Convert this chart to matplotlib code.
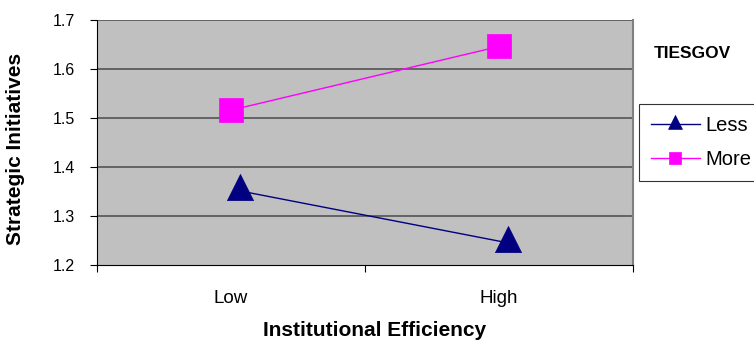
import matplotlib
matplotlib.use("Agg")
import matplotlib.pyplot as plt
from matplotlib.path import Path

categories = ["Low", "High"]
less_vals = [1.351, 1.245]
more_vals = [1.516, 1.646]
series_names = ["Less", "More"]
yticks = [1.2, 1.3, 1.4, 1.5, 1.6, 1.7]
legend_title = "TIESGOV"

plt.rcParams['font.family'] = ['Liberation Sans', 'DejaVu Sans']

# Excel-style triangle: data point sits below the middle of the triangle
tri = Path([(0, 1.3), (-1, -0.7), (1, -0.7), (0, 1.3)],
           [Path.MOVETO, Path.LINETO, Path.LINETO, Path.CLOSEPOLY])

fig = plt.figure(figsize=(7.54, 3.45), dpi=100)
ax = fig.add_axes([97/754, 1-265/345, (633-97)/754, (265-20)/345])
ax.set_facecolor("#C0C0C0")

pos = [0.5, 1.5]
shift = 0.035  # the "Less" series is drawn slightly right of the category centre
ax.plot([p + shift for p in pos], less_vals, color="#000080", lw=1.0, marker=tri,
        markersize=24.5, markeredgecolor="#000080", markeredgewidth=0.5,
        label=series_names[0], zorder=3)
ax.plot(pos, more_vals, color="#FF00FF", lw=1.0, marker="s", markersize=17.5,
        markeredgecolor="#FF00FF", markeredgewidth=0.5,
        label=series_names[1], zorder=3)

ax.set_xlim(0, 2)
ax.set_ylim(1.2, 1.7)
ax.set_yticks(yticks)
ax.set_yticklabels([f"{v:.1f}" for v in yticks], fontsize=11.5)
for v in yticks[1:]:
    ax.axhline(v, color="#4a4a4a", lw=1.1, zorder=1)

ax.set_xticks([0, 1, 2])
ax.set_xticklabels([])
ax.set_xticks(pos, minor=True)
ax.set_xticklabels(categories, minor=True, fontsize=13.5)
ax.tick_params(axis='x', which='minor', length=0, pad=18)
ax.tick_params(axis='x', which='major', length=5, direction='out', color='black')
ax.tick_params(axis='y', length=5, direction='out', color='black', pad=11)

ax.spines['top'].set_visible(False)
ax.spines['right'].set_color('#808080')
ax.spines['right'].set_linewidth(1.5)
ax.spines['left'].set_color('black')
ax.spines['bottom'].set_color('black')

ax.set_ylabel("Strategic Initiatives", fontsize=15, fontweight='bold')
ax.yaxis.set_label_coords((16-97)/536, (265-149)/245)
ax.yaxis.label.set_va('center')
ax.set_xlabel("Institutional Efficiency", fontsize=15, fontweight='bold')
ax.xaxis.set_label_coords((375-97)/536, (265-331)/245)
ax.xaxis.label.set_va('center')

fig.text(654/754, 1-53/345, legend_title, fontsize=12.5, fontweight='bold',
         va='center', ha='left')

leg = ax.legend(loc='upper left', bbox_to_anchor=(639/754, 1-104/345),
                bbox_transform=fig.transFigure, frameon=True, fancybox=False,
                fontsize=14.5, handlelength=2.42, handletextpad=0.3,
                borderpad=0.6, labelspacing=0.75, borderaxespad=0)
leg.get_frame().set_edgecolor('black')
leg.get_frame().set_linewidth(0.8)
hs = leg.legend_handles
hs[0].set_markersize(13)
hs[1].set_markersize(8)

fig.savefig("out.png", dpi=100)
